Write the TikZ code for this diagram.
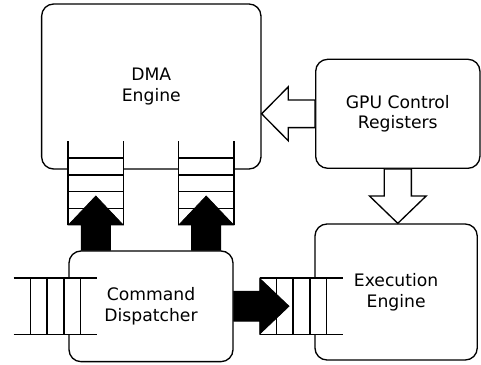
\documentclass[tikz,border=0pt]{standalone}
\usepackage{fontspec}
\setmainfont{DejaVu Sans}
\usetikzlibrary{calc}

% block arrow: #1 style, #2 start, #3 tip, #4 shaft half width, #5 head half width, #6 head length
\newcommand\blockarrow[6]{%
  \coordinate (ba-b) at ($(#3)!#6!(#2)$);
  \draw[#1] ($(#2)!#4!90:(#3)$) -- ($(ba-b)!#4!90:(#3)$) -- ($(ba-b)!#5!90:(#3)$)
    -- (#3) -- ($(ba-b)!#5!-90:(#3)$) -- ($(ba-b)!#4!-90:(#3)$)
    -- ($(#2)!#4!-90:(#3)$) -- cycle;}

% queue drawn as a strip of five cells, open at both ends
\newcommand\vqueue[1]{%
  \draw[qline] (#1.north west) -- (#1.south west) (#1.north east) -- (#1.south east);
  \foreach \f in {0.2,0.4,0.6,0.8}
    \draw[qline] ($(#1.north west)!\f!(#1.south west)$) -- ($(#1.north east)!\f!(#1.south east)$);}
\newcommand\hqueue[1]{%
  \draw[qline] (#1.north west) -- (#1.north east) (#1.south west) -- (#1.south east);
  \foreach \f in {0.2,0.4,0.6,0.8}
    \draw[qline] ($(#1.north west)!\f!(#1.north east)$) -- ($(#1.south west)!\f!(#1.south east)$);}

\begin{document}
\begin{tikzpicture}[x=0.75pt,y=-0.75pt,
  box/.style={draw=black, line width=1pt, fill=white, rounded corners=9pt,
    align=center, inner sep=0pt, font=\fontsize{12.9}{15.6}\selectfont},
  qbg/.style={fill=white, draw=none, inner sep=0pt},
  qline/.style={draw=black, line width=1pt},
  solidarrow/.style={fill=black, draw=black, line width=0.5pt},
  hollowarrow/.style={fill=white, draw=black, line width=1pt, line join=miter}]
\useasboundingbox (0,0) rectangle (481,364);

% units blocks
\node[box, minimum width=164.5pt, minimum height=123.75pt] (dma) at (151.3,86.5) {DMA\\Engine};
\node[box, minimum width=123.2pt, minimum height=81.75pt] (gpu) at (397.8,113.8) {GPU Control\\Registers};
\node[box, minimum width=121.7pt, minimum height=102pt] (exec) at (396.1,292) {Execution\\Engine};
\node[box, minimum width=123pt, minimum height=83pt] (disp) at (151,306.3) {Command\\Dispatcher};

% command queues
\node[qbg, minimum width=41.25pt, minimum height=62.25pt] (qa) at (95.8,183.2) {};
\node[qbg, minimum width=41.25pt, minimum height=62.25pt] (qb) at (206.2,183.2) {};
\node[qbg, minimum width=62.25pt, minimum height=41.8pt] (qc) at (55.5,306.2) {};
\node[qbg, minimum width=62.25pt, minimum height=41.8pt] (qd) at (301.5,306.2) {};
\vqueue{qa}
\vqueue{qb}
\hqueue{qc}
\hqueue{qd}

% data paths
\coordinate (sa) at (disp.north -| qa.south);
\coordinate (ta) at ($(qa.south)+(0,21.75pt)$);
\blockarrow{solidarrow}{sa}{ta}{11pt}{20.6pt}{21.75pt}
\coordinate (sb) at (disp.north -| qb.south);
\coordinate (tb) at ($(qb.south)+(0,21.75pt)$);
\blockarrow{solidarrow}{sb}{tb}{11pt}{20.6pt}{21.75pt}
\coordinate (sc) at (disp.east |- qd.west);
\coordinate (tc) at ($(qd.west)+(22pt,0)$);
\blockarrow{solidarrow}{sc}{tc}{11.25pt}{20.9pt}{22pt}

% control paths
\coordinate (tg) at (dma.east |- gpu.west);
\blockarrow{hollowarrow}{gpu.west}{tg}{10.35pt}{20.25pt}{20pt}
\coordinate (te) at (gpu.south |- exec.north);
\blockarrow{hollowarrow}{gpu.south}{te}{10.2pt}{21.25pt}{20.5pt}
\end{tikzpicture}
\end{document}
